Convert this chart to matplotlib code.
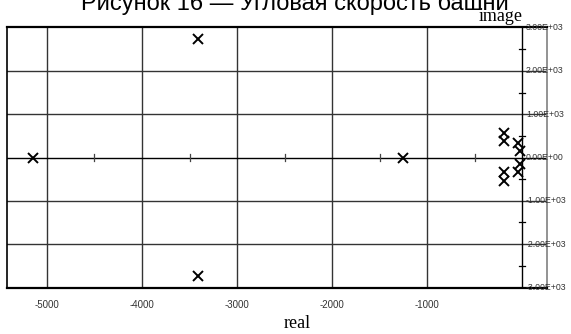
import matplotlib
matplotlib.use('Agg')
import matplotlib.pyplot as plt

# poles (real, image)
pole_re = [-5150, -3410, -3410, -1250, -190, -190, -190, -190, -40, -20, -20, -40]
pole_im = [0, 2730, -2730, 0, 577, 370, -346, -554, 330, 160, -160, -330]

x_grid = [-5000, -4000, -3000, -2000, -1000]
x_labels = ['-5000', '-4000', '-3000', '-2000', '-1000']
y_grid = [-2000, -1000, 1000, 2000]
y_ticks = [-3000, -2000, -1000, 0, 1000, 2000, 3000]
y_labels = ['-3.00E+03', '-2.00E+03', '-1.00E+03', '0.00E+00',
            '1.00E+03', '2.00E+03', '3.00E+03']
x_minor = [-4500, -3500, -2500, -1500, -500]
y_minor = [-2500, -1500, -500, 500, 1500, 2500]

title = 'Рисунок 16 — Угловая скорость башни'

fig = plt.figure(figsize=(5.71, 3.34), dpi=100)
ax = fig.add_axes([7 / 571, 1 - 288 / 334, 540 / 571, 261 / 334])
ax.set_xlim(-5421, 263)
ax.set_ylim(-3015, 3015)
ax.set_xticks([])
ax.set_yticks([])

for s in ['left', 'top', 'bottom']:
    ax.spines[s].set_color('black')
ax.spines['top'].set_linewidth(1.6)
ax.spines['bottom'].set_linewidth(1.6)
ax.spines['left'].set_linewidth(1.2)
ax.spines['right'].set_color('#808080')
ax.spines['right'].set_linewidth(1.2)

# grid
for xv in x_grid:
    ax.axvline(xv, color='#333333', lw=1.0, zorder=1)
for yv in y_grid:
    ax.axhline(yv, color='#333333', lw=1.0, zorder=1)

# axes through origin
ax.axhline(0, color='black', lw=1.0, zorder=2)
ax.axvline(0, color='black', lw=1.0, zorder=2)

# minor ticks on the axes
tick_dx = 0.0045 * (263 + 5421)
tick_dy = 0.012 * 6030
for xv in x_minor:
    ax.plot([xv, xv], [-tick_dy, tick_dy], color='#444444', lw=0.9, zorder=2)
for yv in y_minor:
    ax.plot([-tick_dx * 1.4, tick_dx * 1.4], [yv, yv], color='black', lw=0.9, zorder=2)

ax.plot(pole_re, pole_im, linestyle='none', marker='x', color='black',
        markersize=6.5, markeredgewidth=1.4, zorder=3, clip_on=False)

# tick labels
for xv, lab in zip(x_grid, x_labels):
    ax.text(xv, -3015 - 390, lab, ha='center', va='center',
            fontsize=7, color='#333333', family='Liberation Sans', clip_on=False)
for yv, lab in zip(y_ticks, y_labels):
    ax.text(40, yv, lab, ha='left', va='center', fontsize=6.3,
            color='#333333', family='Liberation Sans', clip_on=False)

fig.text(297 / 571, 1 - 324 / 334, 'real', ha='center', va='center',
         fontsize=13, family='Liberation Serif')
fig.text(501 / 571, 1 - 21 / 334, 'image', ha='center', va='baseline',
         fontsize=13, family='Liberation Serif')
fig.text(295 / 571, 1 - 10 / 334, title, ha='center', va='baseline',
         fontsize=17, family='Liberation Sans')

fig.savefig('out.png', dpi=100)
